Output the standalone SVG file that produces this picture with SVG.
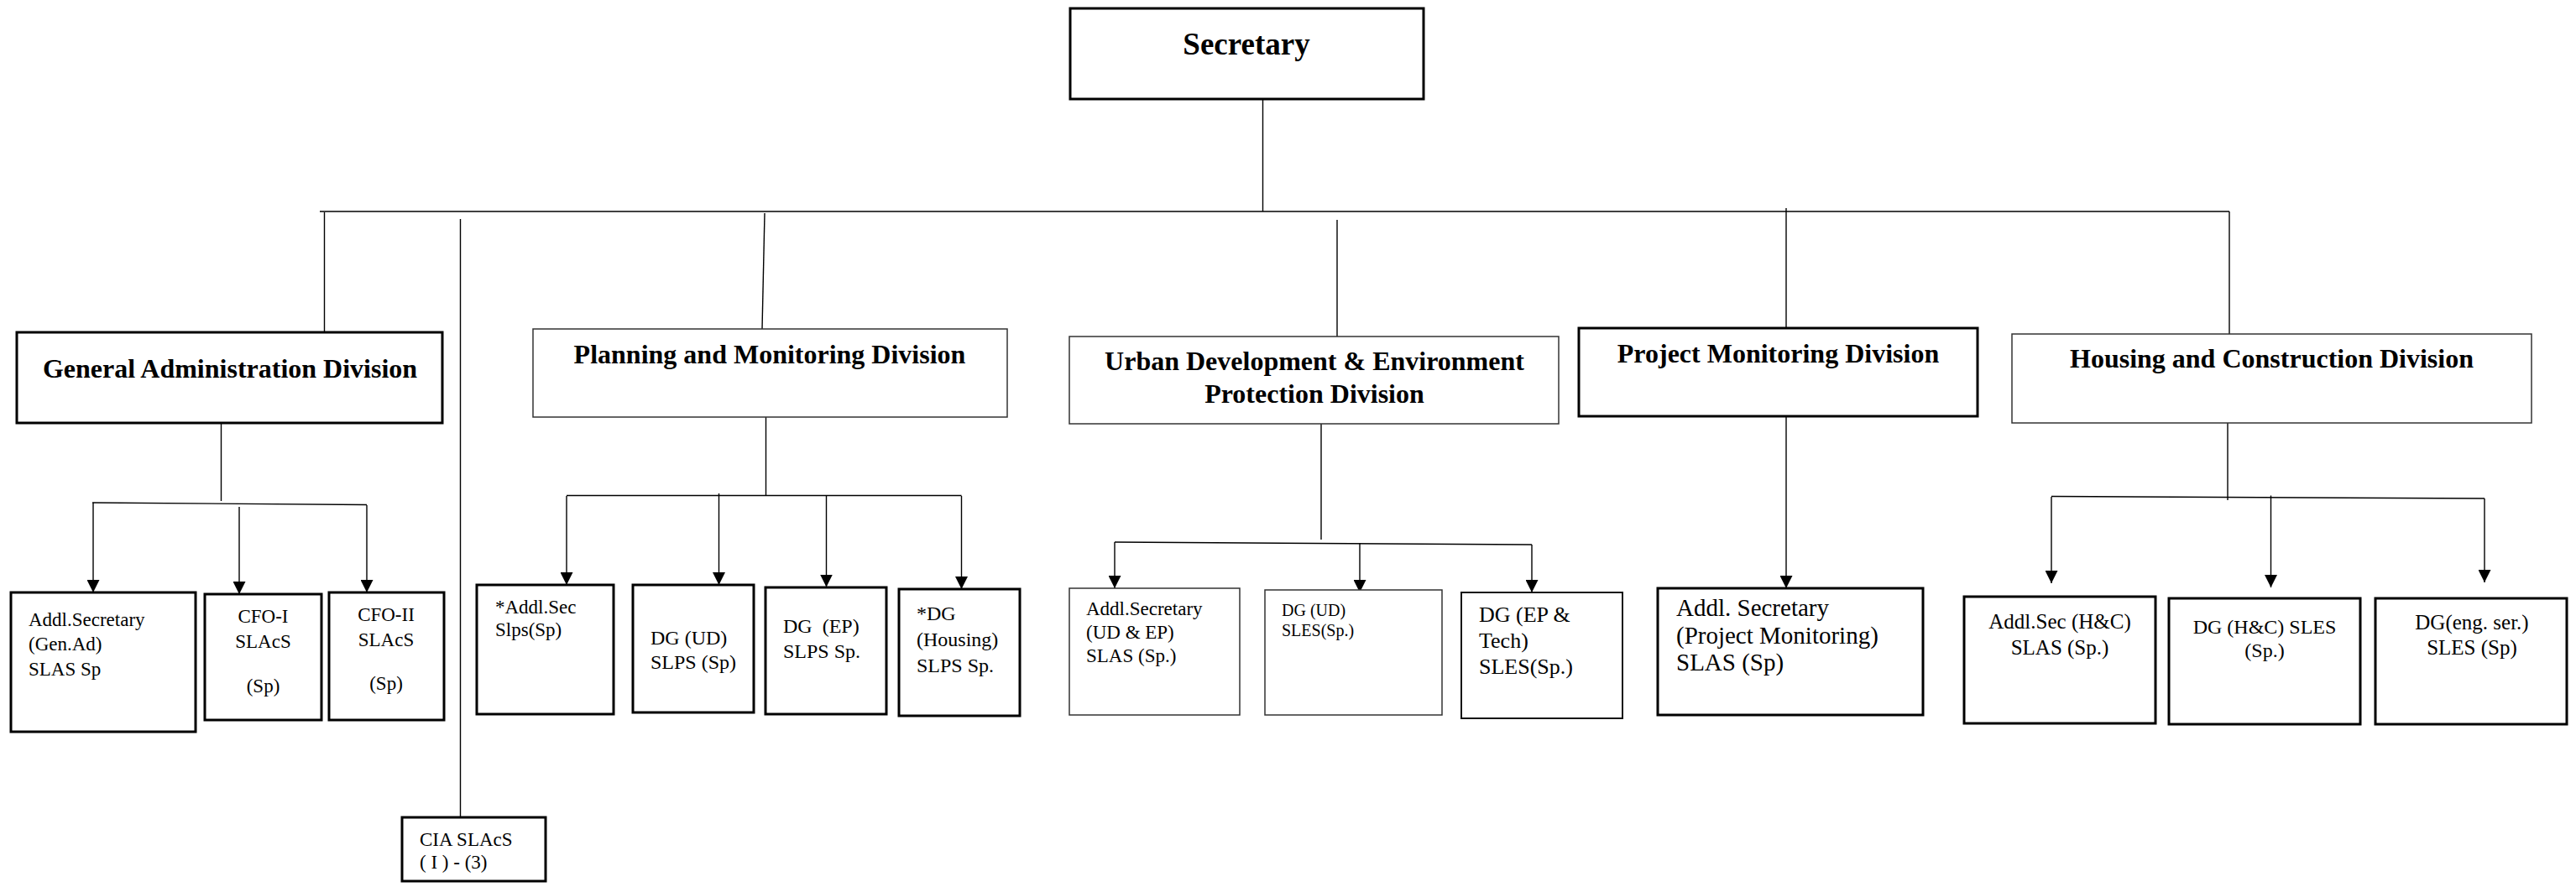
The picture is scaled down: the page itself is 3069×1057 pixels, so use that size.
<svg xmlns="http://www.w3.org/2000/svg" width="3069" height="1057" viewBox="0 0 3069 1057">
<style>
.bg{fill:#fff}
.thick{fill:#fff;stroke:#000;stroke-width:3}
.thin{fill:#fff;stroke:#333;stroke-width:1.5}
.mid{fill:#fff;stroke:#111;stroke-width:2}
.ln{stroke:#000;stroke-width:1.4;fill:none}
.hdr{font-family:"Liberation Serif","Times New Roman",serif;font-weight:bold;font-size:32px;text-anchor:middle;fill:#000}
.t{font-family:"Liberation Serif","Times New Roman",serif;font-size:23px;fill:#000;white-space:pre}
.c{text-anchor:middle}
</style>
<defs>
<marker id="arr" viewBox="0 0 15 15" refX="15" refY="7.5" markerWidth="15" markerHeight="15" markerUnits="userSpaceOnUse" orient="auto">
<path d="M0,0 L15,7.5 L0,15 z" fill="#000"/>
</marker>
</defs>
<rect class="bg" x="0" y="0" width="3069" height="1057"/>

<g id="connectors">
<path class="ln" d="M1504.5,118 V252"/>
<path class="ln" d="M381,252 H2656"/>
<path class="ln" d="M386.5,253 V396"/>
<path class="ln" d="M548.5,261 V974"/>
<path class="ln" d="M911,254 L908,392"/>
<path class="ln" d="M1593,262 V401"/>
<path class="ln" d="M2128,248 V391"/>
<path class="ln" d="M2656,252 V398"/>

<path class="ln" d="M263.5,504 V597"/>
<path class="ln" d="M110,599 L437,601.5"/>
<line class="ln" x1="111" y1="599" x2="111" y2="706" marker-end="url(#arr)"/>
<line class="ln" x1="285" y1="604" x2="285" y2="708" marker-end="url(#arr)"/>
<line class="ln" x1="437" y1="602" x2="437" y2="706" marker-end="url(#arr)"/>

<path class="ln" d="M912.5,497 V591"/>
<path class="ln" d="M675,590.5 H1145.5"/>
<line class="ln" x1="675" y1="591" x2="675" y2="697" marker-end="url(#arr)"/>
<line class="ln" x1="856.5" y1="588" x2="856.5" y2="697" marker-end="url(#arr)"/>
<line class="ln" x1="984.5" y1="591" x2="984.5" y2="699.5" marker-end="url(#arr)"/>
<line class="ln" x1="1145.5" y1="591" x2="1145.5" y2="702" marker-end="url(#arr)"/>

<path class="ln" d="M1574,505 V643"/>
<path class="ln" d="M1328,646 L1825,649"/>
<line class="ln" x1="1328" y1="646" x2="1328" y2="701" marker-end="url(#arr)"/>
<line class="ln" x1="1620" y1="647" x2="1620" y2="706" marker-end="url(#arr)"/>
<line class="ln" x1="1825" y1="649" x2="1825" y2="706" marker-end="url(#arr)"/>

<line class="ln" x1="2128" y1="496" x2="2128" y2="701" marker-end="url(#arr)"/>

<path class="ln" d="M2654,504 V596"/>
<path class="ln" d="M2444,591.5 L2960,594"/>
<line class="ln" x1="2444" y1="592" x2="2444" y2="695" marker-end="url(#arr)"/>
<line class="ln" x1="2705.5" y1="590.5" x2="2705.5" y2="700" marker-end="url(#arr)"/>
<line class="ln" x1="2960" y1="594" x2="2960" y2="694" marker-end="url(#arr)"/>
</g>

<g id="secretary">
<rect class="thick" x="1275" y="10" width="421" height="108"/>
<text class="hdr" x="1485" y="65" style="font-size:37px">Secretary</text>
</g>

<g id="general-administration">
<rect class="thick" x="20" y="396" width="507" height="108"/>
<text class="hdr" x="274" y="450">General Administration Division</text>
</g>
<g id="planning-monitoring">
<rect class="thin" x="635" y="392" width="565" height="105"/>
<text class="hdr" x="917" y="433">Planning and Monitoring Division</text>
</g>
<g id="urban-development">
<rect class="thin" x="1274" y="401" width="583" height="104"/>
<text class="hdr" x="1566" y="441">Urban Development &amp; Environment</text>
<text class="hdr" x="1566" y="480">Protection Division</text>
</g>
<g id="project-monitoring">
<rect class="thick" x="1881" y="391" width="475" height="105"/>
<text class="hdr" x="2118.5" y="432">Project Monitoring Division</text>
</g>
<g id="housing-construction">
<rect class="thin" x="2397" y="398" width="619" height="106"/>
<text class="hdr" x="2706.5" y="438">Housing and Construction Division</text>
</g>

<g id="addl-sec-genad">
<rect class="thick" x="13" y="706" width="220" height="166"/>
<text class="t" x="34" y="746">Addl.Secretary</text>
<text class="t" x="34" y="775">(Gen.Ad)</text>
<text class="t" x="34" y="805">SLAS Sp</text>
</g>
<g id="cfo-1">
<rect class="thick" x="244" y="708" width="139" height="150"/>
<text class="t c" x="313.5" y="742">CFO-I</text>
<text class="t c" x="313.5" y="772">SLAcS</text>
<text class="t c" x="313.5" y="825">(Sp)</text>
</g>
<g id="cfo-2">
<rect class="thick" x="392" y="706" width="137" height="152"/>
<text class="t c" x="460" y="740">CFO-II</text>
<text class="t c" x="460" y="770">SLAcS</text>
<text class="t c" x="460" y="822">(Sp)</text>
</g>
<g id="cia">
<rect class="thick" x="479" y="974" width="171" height="76"/>
<text class="t" x="500" y="1008">CIA SLAcS</text>
<text class="t" x="500" y="1035">( I ) - (3)</text>
</g>

<g id="addl-sec-slps">
<rect class="thick" x="568" y="697" width="163" height="154"/>
<text class="t" x="590" y="731">*Addl.Sec</text>
<text class="t" x="590" y="758">Slps(Sp)</text>
</g>
<g id="dg-ud-slps">
<rect class="thick" x="754" y="697" width="144" height="152"/>
<text class="t" x="775" y="768" style="font-size:24px">DG (UD)</text>
<text class="t" x="775" y="797" style="font-size:24px">SLPS (Sp)</text>
</g>
<g id="dg-ep-slps">
<rect class="thick" x="912" y="700" width="144" height="151"/>
<text class="t" x="933" y="754" style="font-size:24px">DG  (EP)</text>
<text class="t" x="933" y="784" style="font-size:24px">SLPS Sp.</text>
</g>
<g id="dg-housing-slps">
<rect class="thick" x="1071" y="702" width="144" height="151"/>
<text class="t" x="1092" y="739" style="font-size:24px">*DG</text>
<text class="t" x="1092" y="770" style="font-size:24px">(Housing)</text>
<text class="t" x="1092" y="801" style="font-size:24px">SLPS Sp.</text>
</g>

<g id="addl-sec-ud-ep">
<rect class="thin" x="1274" y="701" width="203" height="151"/>
<text class="t" x="1294" y="733">Addl.Secretary</text>
<text class="t" x="1294" y="761">(UD &amp; EP)</text>
<text class="t" x="1294" y="789">SLAS (Sp.)</text>
</g>
<g id="dg-ud-sles">
<rect class="thin" x="1507" y="703" width="211" height="149"/>
<text class="t" x="1527" y="734" style="font-size:20px">DG (UD)</text>
<text class="t" x="1527" y="758" style="font-size:20px">SLES(Sp.)</text>
</g>
<g id="dg-ep-tech">
<rect class="mid" x="1741" y="706" width="192" height="150"/>
<text class="t" x="1762" y="741" style="font-size:26px">DG (EP &amp;</text>
<text class="t" x="1762" y="772" style="font-size:26px">Tech)</text>
<text class="t" x="1762" y="803" style="font-size:26px">SLES(Sp.)</text>
</g>

<g id="addl-sec-pm">
<rect class="thick" x="1975" y="701" width="316" height="151"/>
<text class="t" x="1997" y="734" style="font-size:29px">Addl. Secretary</text>
<text class="t" x="1997" y="767" style="font-size:29px">(Project Monitoring)</text>
<text class="t" x="1997" y="799" style="font-size:29px">SLAS (Sp)</text>
</g>

<g id="addl-sec-hc">
<rect class="thick" x="2340" y="711" width="228" height="151"/>
<text class="t c" x="2454" y="749" style="font-size:25px">Addl.Sec (H&amp;C)</text>
<text class="t c" x="2454" y="780" style="font-size:25px">SLAS (Sp.)</text>
</g>
<g id="dg-hc-sles">
<rect class="thick" x="2584" y="713" width="228" height="150"/>
<text class="t c" x="2698" y="755" style="font-size:24px">DG (H&amp;C) SLES</text>
<text class="t c" x="2698" y="783" style="font-size:24px">(Sp.)</text>
</g>
<g id="dg-eng-ser">
<rect class="thick" x="2830" y="713" width="228" height="150"/>
<text class="t c" x="2945" y="750" style="font-size:25px">DG(eng. ser.)</text>
<text class="t c" x="2945" y="780" style="font-size:25px">SLES (Sp)</text>
</g>
</svg>
